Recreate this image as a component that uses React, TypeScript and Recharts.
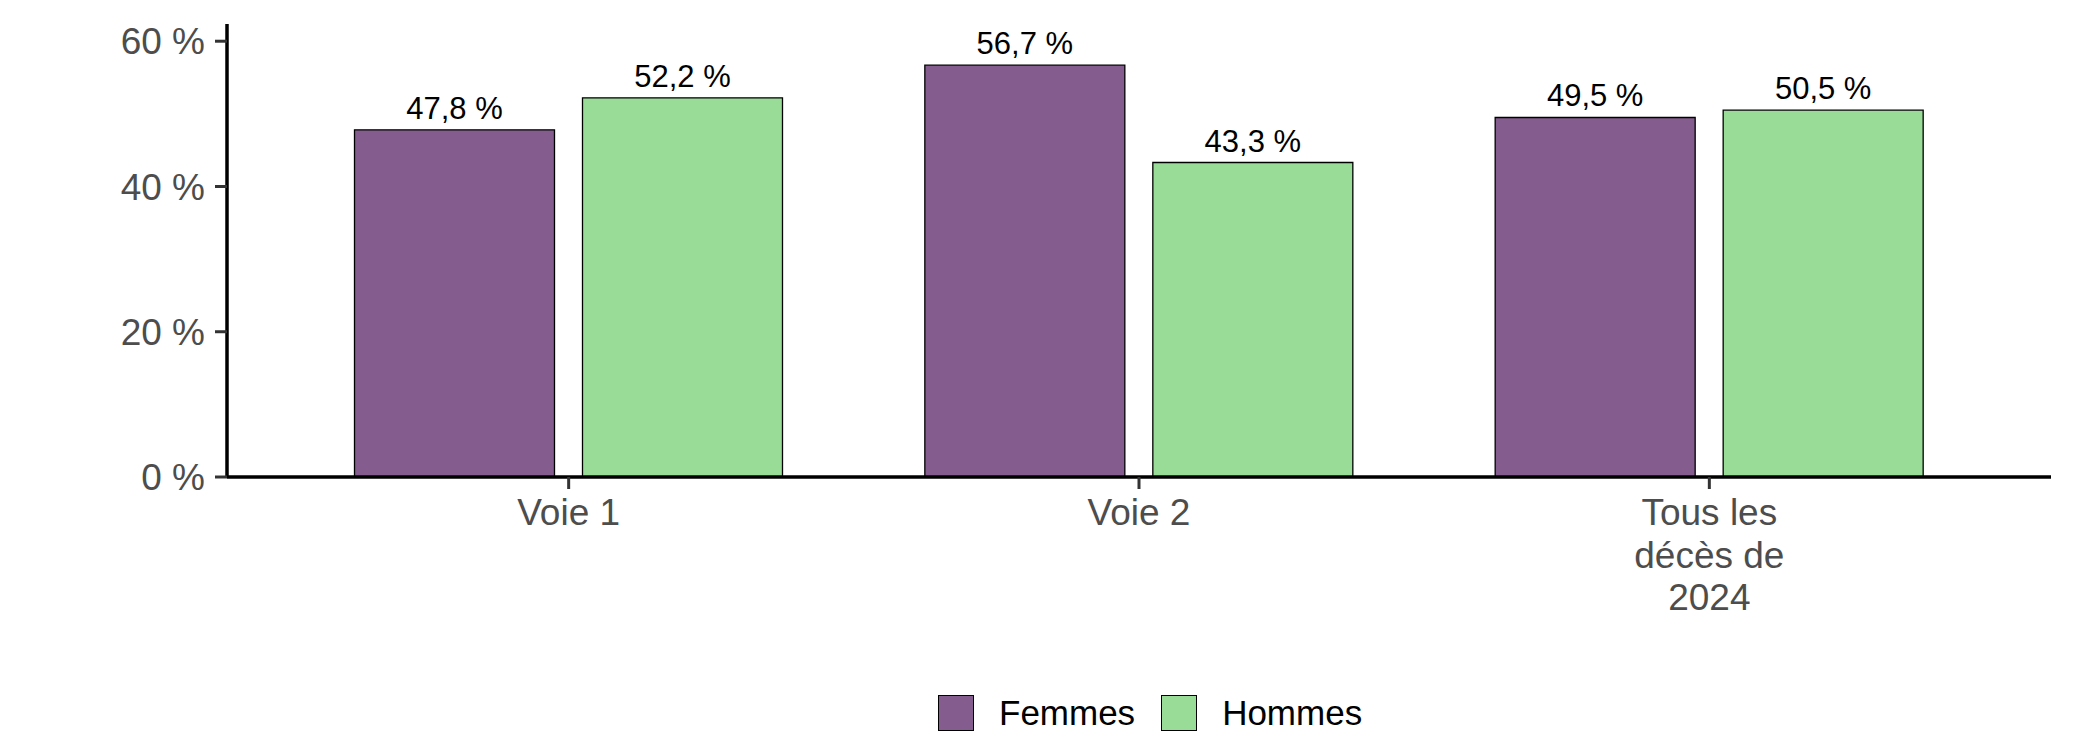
import { BarChart, Bar, XAxis, YAxis, LabelList } from "recharts";

const categories = ["Voie 1", "Voie 2", "Tous les décès de 2024"];
const tickLines = [["Voie 1"], ["Voie 2"], ["Tous les", "décès de", "2024"]];
const femmes = [47.8, 56.7, 49.5];
const hommes = [52.2, 43.3, 50.5];
const yTicks = [0, 20, 40, 60];

const FONT = "'Liberation Sans', Arial, sans-serif";
const PURPLE = "#855C8E";
const GREEN = "#98DC98";

const data = categories.map((c, i) => ({ name: c, Femmes: femmes[i], Hommes: hommes[i] }));

const fmt = (v: number) => `${v.toFixed(1).replace(".", ",")} %`;

function CatTick({ x, y, index }: any) {
  const lines = tickLines[index] || [];
  return (
    <text x={x} y={y} textAnchor="middle" fill="#4d4d4d" fontSize={37} fontFamily={FONT}>
      {lines.map((l, i) => (
        <tspan key={i} x={x} dy={i === 0 ? 34 : 42.5}>
          {l}
        </tspan>
      ))}
    </text>
  );
}

function LegendBox() {
  const items = [
    { label: "Femmes", color: PURPLE },
    { label: "Hommes", color: GREEN },
  ];
  return (
    <div
      style={{
        position: "absolute",
        left: 938,
        top: 693,
        display: "flex",
        alignItems: "center",
        fontFamily: FONT,
        fontSize: 35,
        color: "#000",
      }}
    >
      {items.map((it) => (
        <div key={it.label} style={{ display: "flex", alignItems: "center", marginRight: 26 }}>
          <div style={{ width: 34, height: 34, background: it.color, border: "1.5px solid #000", marginRight: 25 }} />
          <span>{it.label}</span>
        </div>
      ))}
    </div>
  );
}

export default function App() {
  return (
    <div style={{ position: "absolute", left: 0, top: 0, width: 2078, height: 755, background: "#fff" }}>
      <BarChart
        width={2078}
        height={755}
        data={data}
        margin={{ top: 24, right: 27, bottom: 248, left: 0 }}
        barGap={28}
        barSize={200}
      >
        <XAxis
          dataKey="name"
          height={30}
          padding={{ left: 56.5, right: 56.5 }}
          axisLine={{ stroke: "#000", strokeWidth: 3.5 }}
          tickLine={{ stroke: "#333", strokeWidth: 3 }}
          tickSize={12}
          tick={<CatTick />}
          interval={0}
        />
        <YAxis
          width={227}
          domain={[0, 62.37]}
          ticks={yTicks}
          allowDataOverflow
          tickFormatter={(v: number) => `${v} %`}
          axisLine={{ stroke: "#000", strokeWidth: 3.5 }}
          tickLine={{ stroke: "#333", strokeWidth: 3 }}
          tickSize={12}
          tickMargin={10}
          tick={{ fill: "#4d4d4d", fontSize: 37, fontFamily: FONT }}
        />
        <Bar dataKey="Femmes" fill={PURPLE} stroke="#000" strokeWidth={1.3} isAnimationActive={false}>
          <LabelList dataKey="Femmes" position="top" offset={11} formatter={fmt} fill="#000" fontSize={31} fontFamily={FONT} />
        </Bar>
        <Bar dataKey="Hommes" fill={GREEN} stroke="#000" strokeWidth={1.3} isAnimationActive={false}>
          <LabelList dataKey="Hommes" position="top" offset={11} formatter={fmt} fill="#000" fontSize={31} fontFamily={FONT} />
        </Bar>
      </BarChart>
      <LegendBox />
    </div>
  );
}
